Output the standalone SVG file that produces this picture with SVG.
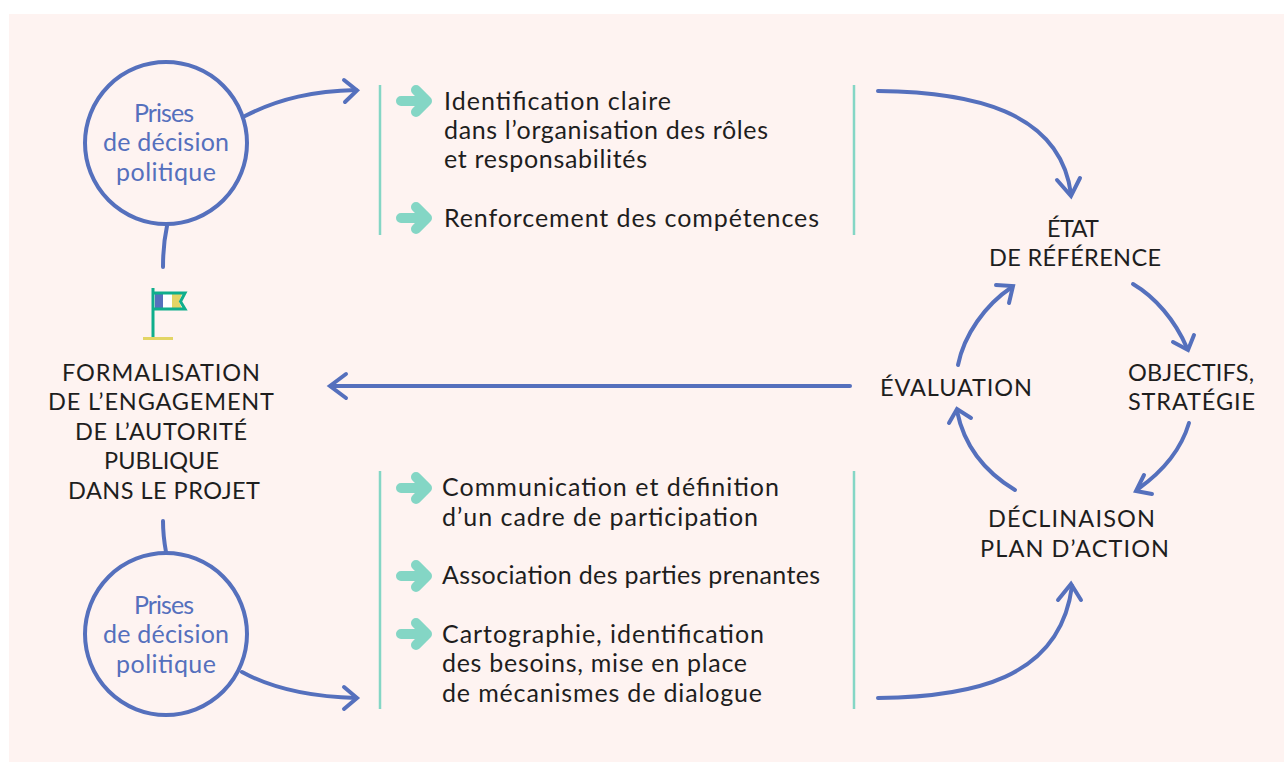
<svg xmlns="http://www.w3.org/2000/svg" width="1284" height="762" viewBox="0 0 1284 762">
<defs>
<style>
.t{font-family:"Lato","Liberation Sans",sans-serif;font-size:25px;fill:#1e1e1e}
.u{font-size:23.500px}
.m{text-anchor:middle}
.b{font-family:"Lato","Liberation Sans",sans-serif;font-size:25px;fill:#5570bd;text-anchor:middle}
.c{fill:none;stroke:#5570bd;stroke-width:4;stroke-linecap:round;stroke-linejoin:miter}
.v{stroke:#84d6c5;stroke-width:2.500;fill:none}
.g{fill:none;stroke:#84d6c5;stroke-width:10;stroke-linecap:round;stroke-linejoin:round}
</style>
<g id="bullet"><path class="g" d="M0 0H26M15-11L26 0L15 11"/></g>
</defs>
<rect x="9" y="14" width="1275" height="748" fill="#fef3f1"/>
<g id="connectors">
<path class="c" d="M245 116C280 98 315 91 356 90"/><path class="c" d="M344 80L357 90.500L345 102"/>
<path class="c" d="M167 226C164 240 163 252 163 267"/>
<path class="c" d="M163 521C163 533 164 541 166 552"/>
<path class="c" d="M242 672C275 690 315 697 356 698"/><path class="c" d="M344 687L357 698L344 709"/>
<path class="c" d="M878 91C970 92 1060 110 1071 194"/><path class="c" d="M1057 180L1071 196L1080 178"/>
<path class="c" d="M878 698C970 697 1060 680 1072 586"/><path class="c" d="M1058 600L1071 584L1081 600"/>
<path class="c" d="M850 386H331"/><path class="c" d="M346 374L330 386L346 398"/>
<path class="c" d="M1133 284C1155 297 1175 320 1187 348"/><path class="c" d="M1173 342L1188 350L1194 335"/>
<path class="c" d="M1189 423C1181 450 1162 472 1138 489"/><path class="c" d="M1144 475L1136 491L1152 494"/>
<path class="c" d="M1015 490C990 475 965 450 957 411"/><path class="c" d="M949 423L957 409L971 418"/>
<path class="c" d="M958 365C964 335 985 305 1012 287"/><path class="c" d="M996 285L1013 286L1009 303"/>
</g>
<g id="node-decision-top"><circle cx="166" cy="143" r="81" fill="none" stroke="#5570bd" stroke-width="4"/>
<text class="b" x="164" y="122" textLength="60">Prises</text><text class="b" x="166" y="151" textLength="126">de décision</text><text class="b" x="166" y="181" textLength="100">politique</text></g>
<g id="node-decision-bottom"><circle cx="166" cy="634" r="81" fill="none" stroke="#5570bd" stroke-width="4"/>
<text class="b" x="164" y="614" textLength="60">Prises</text><text class="b" x="166" y="643" textLength="126">de décision</text><text class="b" x="166" y="673" textLength="100">politique</text></g>
<g id="node-flag">
<rect x="155" y="294" width="8" height="15" fill="#5570bd"/><rect x="163" y="294" width="9" height="15" fill="#fff"/><path d="M172 294h10l-3 7.500l3 7.500h-10z" fill="#e3d565"/>
<path d="M153 309H185L180.500 301.500L185 293H153M153 288V337" fill="none" stroke="#0fae8c" stroke-width="3"/>
<rect x="143" y="337" width="30" height="3" fill="#e3d565"/></g>
<g id="node-formalisation"><text class="t u m" x="161" y="380.500" textLength="198">FORMALISATION</text><text class="t u m" x="161" y="409.500" textLength="226">DE L’ENGAGEMENT</text><text class="t u m" x="161" y="439.500" textLength="172">DE L’AUTORITÉ</text><text class="t u m" x="161.500" y="468.500" textLength="115">PUBLIQUE</text><text class="t u m" x="164" y="498.500" textLength="192">DANS LE PROJET</text></g>
<g id="node-list-top"><path class="v" d="M380 85V235M854 85V235"/>
<use href="#bullet" x="401" y="101"/><use href="#bullet" x="401" y="218"/>
<text class="t" x="444" y="110" textLength="227">Identification claire</text><text class="t" x="444" y="139" textLength="324">dans l’organisation des rôles</text><text class="t" x="444" y="168" textLength="203">et responsabilités</text><text class="t" x="444" y="227" textLength="375">Renforcement des compétences</text></g>
<g id="node-list-bottom"><path class="v" d="M380 471V709M854 471V709"/>
<use href="#bullet" x="401" y="488"/><use href="#bullet" x="401" y="576"/><use href="#bullet" x="401" y="634"/>
<text class="t" x="442" y="496" textLength="337">Communication et définition</text><text class="t" x="442" y="526" textLength="316">d’un cadre de participation</text><text class="t" x="442" y="584" textLength="378">Association des parties prenantes</text><text class="t" x="442" y="643" textLength="322">Cartographie, identification</text><text class="t" x="442" y="672" textLength="305">des besoins, mise en place</text><text class="t" x="442" y="702" textLength="320">de mécanismes de dialogue</text></g>
<g id="node-etat"><text class="t u m" x="1073" y="236.500" textLength="52">ÉTAT</text><text class="t u m" x="1075" y="265.500" textLength="172">DE RÉFÉRENCE</text></g>
<g id="node-objectifs"><text class="t u m" x="1191" y="381" textLength="126">OBJECTIFS,</text><text class="t u m" x="1191.500" y="410" textLength="127">STRATÉGIE</text></g>
<g id="node-evaluation"><text class="t u m" x="956" y="396" textLength="152">ÉVALUATION</text></g>
<g id="node-declinaison"><text class="t u m" x="1071.500" y="527" textLength="167">DÉCLINAISON</text><text class="t u m" x="1074.500" y="557" textLength="189">PLAN D’ACTION</text></g>
</svg>
